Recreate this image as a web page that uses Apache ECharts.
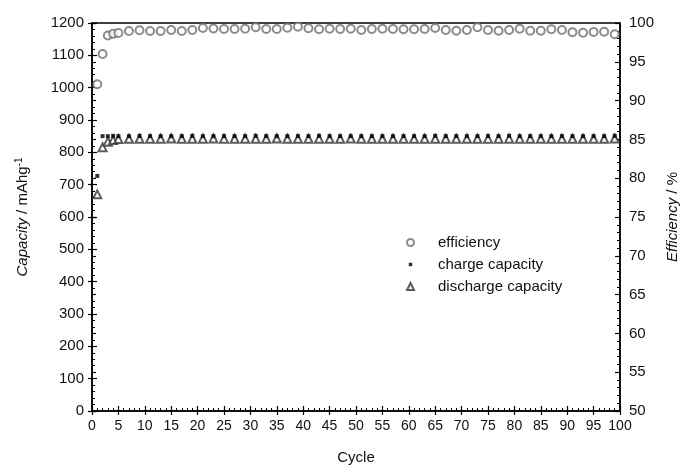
<!DOCTYPE html>
<html>
<head>
<meta charset="utf-8">
<script src="https://cdn.jsdelivr.net/npm/echarts@6/dist/echarts.min.js"></script>
<style>html,body{margin:0;padding:0;background:#fff}#c{width:681px;height:474px}</style>
</head>
<body>
<div id="c"></div>
<script>
var cycles = [1,2,3,4,5,7,9,11,13,15,17,19,21,23,25,27,29,31,33,35,37,39,41,43,45,47,49,51,53,55,57,59,61,63,65,67,69,71,73,75,77,79,81,83,85,87,89,91,93,95,97,99];
var efficiency = [92.1,96.0,98.4,98.6,98.7,98.97,99.06,98.97,98.97,99.1,98.97,99.1,99.36,99.3,99.23,99.23,99.25,99.45,99.23,99.23,99.4,99.52,99.32,99.19,99.27,99.23,99.27,99.1,99.23,99.27,99.23,99.19,99.19,99.23,99.36,99.1,99.0,99.1,99.45,99.1,99.0,99.1,99.27,99.0,99.0,99.19,99.1,98.8,98.75,98.84,98.88,98.54];
var chargeCapacity = [727,850,850,851,850,850,851,850,850,850,850,851,850,850,850,850,850,851,850,850,850,850,850,851,850,850,850,850,850,850,850,850,850,850,851,850,850,850,850,850,850,851,850,850,850,850,850,850,850,850,850,851];
var dischargeCapacity = [670,816,833,838,841,842,842,842,842,843,842,842,842,843,842,842,842,842,842,843,842,842,842,842,842,842,843,842,842,842,842,842,842,842,842,842,842,842,842,842,842,842,842,842,842,842,842,842,842,842,842,843];
var xTicks = [0,100,5];
var capTicks = [0,1200,100];
var effTicks = [50,100,5];
var seriesNames = ['efficiency','charge capacity','discharge capacity'];

function pairs(xs, ys){ return xs.map(function(x,i){ return [x, ys[i]]; }); }
function plain(v){ return String(v); }

var FONT = 'Liberation Sans, Arial, sans-serif';
var chart = echarts.init(document.getElementById('c'), null, {renderer:'canvas'});
var axisLine = {show:true, onZero:false, lineStyle:{color:'#000', width:1.5}};
var innerTick = {show:true, inside:true, length:5, lineStyle:{color:'#000', width:1.2}};
var minor = {show:true, splitNumber:5, length:3, lineStyle:{color:'#000', width:1}};
var outerTick = {show:true, inside:false, length:4, lineStyle:{color:'#000', width:1.2}};
chart.setOption({
  animation:false,
  backgroundColor:'#fff',
  textStyle:{fontFamily:FONT},
  grid:{left:92, right:61, top:23, bottom:63, containLabel:false, outerBoundsMode:'none',
        show:true, borderColor:'#000', borderWidth:1.5, backgroundColor:'transparent'},
  legend:{
    orient:'vertical', left:401, top:230, itemWidth:7, itemHeight:7, itemGap:7,
    textStyle:{fontFamily:FONT, fontSize:15, color:'#111', padding:[0,0,0,19]},
    data:[
      {name:seriesNames[0], icon:'emptyCircle'},
      {name:seriesNames[1], icon:'path://M0,0M10,10M2.5,2.5L7.5,2.5L7.5,7.5L2.5,7.5Z'},
      {name:seriesNames[2], icon:'emptyTriangle'}
    ]
  },
  xAxis:[{
    type:'value', min:xTicks[0], max:xTicks[1], interval:xTicks[2], position:'bottom',
    name:'Cycle', nameLocation:'middle', nameGap:39,
    nameTextStyle:{fontFamily:FONT, fontSize:15, color:'#111'},
    axisLine:axisLine, axisTick:innerTick, minorTick:minor,
    axisLabel:{fontFamily:FONT, fontSize:14, color:'#111', margin:8, formatter:plain},
    splitLine:{show:false}, minorSplitLine:{show:false}
  },{
    type:'value', min:xTicks[0], max:xTicks[1], interval:xTicks[2], position:'bottom',
    axisLine:{show:false}, axisTick:outerTick, minorTick:{show:false},
    axisLabel:{show:false}, splitLine:{show:false}
  }],
  yAxis:[{
    type:'value', min:capTicks[0], max:capTicks[1], interval:capTicks[2], position:'left',
    name:'{i|Capacity} / mAhg{s|-1}', nameLocation:'middle', nameRotate:90, nameGap:60,
    nameTextStyle:{fontFamily:FONT, fontSize:15, color:'#111', lineHeight:18,
      rich:{i:{fontStyle:'italic', fontFamily:FONT, fontSize:15, color:'#111'}, s:{fontSize:10, fontFamily:FONT, color:'#111', verticalAlign:'top', lineHeight:18}}},
    axisLine:axisLine, axisTick:innerTick, minorTick:minor,
    axisLabel:{fontFamily:FONT, fontSize:15, color:'#111', margin:8, formatter:plain},
    splitLine:{show:false}, minorSplitLine:{show:false}
  },{
    type:'value', min:effTicks[0], max:effTicks[1], interval:effTicks[2], position:'right',
    name:'{i|Efficiency} / %', nameLocation:'middle', nameRotate:90, nameGap:41,
    nameTextStyle:{fontFamily:FONT, fontSize:15, color:'#111',
      rich:{i:{fontStyle:'italic', fontFamily:FONT, fontSize:15, color:'#111'}}},
    axisLine:axisLine, axisTick:innerTick, minorTick:minor,
    axisLabel:{fontFamily:FONT, fontSize:15, color:'#111', margin:9, formatter:plain},
    splitLine:{show:false}, minorSplitLine:{show:false}
  },{
    type:'value', min:capTicks[0], max:capTicks[1], interval:capTicks[2], position:'left',
    axisLine:{show:false}, axisTick:outerTick, minorTick:{show:false},
    axisLabel:{show:false}, splitLine:{show:false}
  },{
    type:'value', min:effTicks[0], max:effTicks[1], interval:effTicks[2], position:'right',
    axisLine:{show:false}, axisTick:outerTick, minorTick:{show:false},
    axisLabel:{show:false}, splitLine:{show:false}
  }],
  series:[{
    name:seriesNames[0], type:'scatter', xAxisIndex:0, yAxisIndex:1,
    symbol:'emptyCircle', symbolSize:8,
    itemStyle:{color:'#6e6e6e', borderWidth:1.2},
    data:pairs(cycles, efficiency)
  },{
    name:seriesNames[2], type:'scatter', xAxisIndex:0, yAxisIndex:0,
    symbol:'emptyTriangle', symbolSize:8,
    itemStyle:{color:'#333', borderWidth:1.1},
    data:pairs(cycles, dischargeCapacity), z:2
  },{
    name:seriesNames[1], type:'scatter', xAxisIndex:0, yAxisIndex:0,
    symbol:'rect', symbolSize:4,
    itemStyle:{color:'#000'},
    data:pairs(cycles, chargeCapacity), z:3
  }]
});
</script>
</body>
</html>
